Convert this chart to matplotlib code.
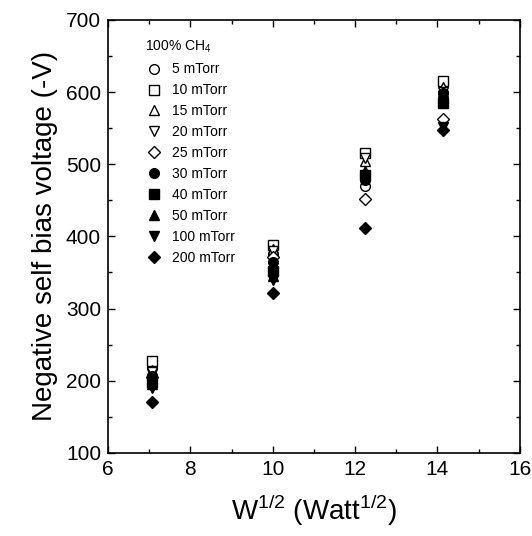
import numpy as np
from matplotlib import pyplot as plt
from matplotlib.ticker import MultipleLocator

plt.rcParams['font.family'] = ['Liberation Sans', 'DejaVu Sans']
plt.rcParams['mathtext.fontset'] = 'custom'
plt.rcParams['mathtext.rm'] = 'Liberation Sans'

# puissance RF : 50, 100, 150, 200 W -> racine
puissance = [50, 100, 150, 200]
x_sqrt = np.sqrt(puissance)

pressions = ['5 mTorr', '10 mTorr', '15 mTorr', '20 mTorr', '25 mTorr',
             '30 mTorr', '40 mTorr', '50 mTorr', '100 mTorr', '200 mTorr']

v_5 = [218, 375, 470, 612]
v_10 = [228, 388, 515, 615]
v_15 = [215, 382, 505, 607]
v_20 = [212, 380, 508, 600]
v_25 = [205, 372, 452, 562]
v_30 = [207, 365, 478, 598]
v_40 = [198, 352, 485, 585]
v_50 = [195, 345, 490, 600]
v_100 = [190, 340, 480, 552]
v_200 = [170, 322, 412, 547]

tensions = [v_5, v_10, v_15, v_20, v_25, v_30, v_40, v_50, v_100, v_200]
marqueurs = ['o', 's', '^', 'v', 'D', 'o', 's', '^', 'v', 'D']
pleins = [False]*5 + [True]*5

fig = plt.figure(figsize=(5.32, 5.36), dpi=100)
ax = fig.add_axes([0.203, 0.155, 0.774, 0.808])

for lab, v, m, p in zip(pressions, tensions, marqueurs, pleins):
  ms = 6 if m == 'D' else 7
  ax.plot(x_sqrt, v, linestyle='none', marker=m, ms=ms,
          mfc='black' if p else 'white', mec='black', mew=1.0, label=lab)

ax.set_xlim(6, 16)
ax.set_ylim(100, 700)
ax.xaxis.set_major_locator(MultipleLocator(2))
ax.xaxis.set_minor_locator(MultipleLocator(1))
ax.yaxis.set_major_locator(MultipleLocator(100))
ax.yaxis.set_minor_locator(MultipleLocator(50))
ax.tick_params(which='both', direction='in', top=True, right=True, width=1.0)
ax.tick_params(which='major', length=5, labelsize=15, pad=5)
ax.tick_params(which='minor', length=3)
for s in ax.spines.values():
  s.set_linewidth(1.2)

ax.set_xlabel(r'W$^{1/2}$ (Watt$^{1/2}$)', fontsize=20, labelpad=10)
ax.set_ylabel('Negative self bias voltage (-V)', fontsize=20, labelpad=6)

leg = ax.legend(title=r'100% CH$_4$', loc='upper left', frameon=False,
                fontsize=10, title_fontsize=10, handletextpad=0.7,
                labelspacing=0.5, borderaxespad=0.3, bbox_to_anchor=(0.067, 0.978),
                handlelength=1.2)
leg._legend_box.align = 'left'

fig.savefig('out.png', dpi=100)
